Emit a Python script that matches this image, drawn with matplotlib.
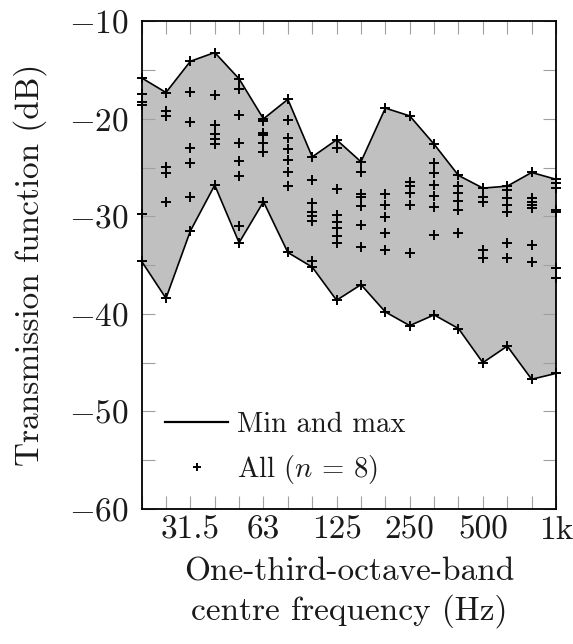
import matplotlib
matplotlib.use("Agg")
import matplotlib.pyplot as plt
from matplotlib.lines import Line2D
import numpy as np

plt.rcParams['font.family'] = 'serif'
plt.rcParams['font.serif'] = ['cmr10', 'DejaVu Serif']
plt.rcParams['mathtext.fontset'] = 'cm'
plt.rcParams['axes.unicode_minus'] = False

# One-third-octave bands (Hz)
bands = ["20", "25", "31.5", "40", "50", "63", "80", "100", "125",
         "160", "200", "250", "315", "400", "500", "630", "800", "1k"]
label_bands = ["31.5", "63", "125", "250", "500", "1k"]

# Transmission function values (dB) of all measurements per band
tf_20 = [-15.8, -17.5, -18.3, -18.6, -29.8, -34.6]
tf_25 = [-17.3, -19.2, -19.7, -24.9, -25.6, -28.5, -38.4]
tf_31 = [-14.1, -17.2, -20.3, -23.0, -24.5, -28.0, -31.5]
tf_40 = [-13.2, -17.6, -20.6, -21.6, -22.1, -22.6, -26.8]
tf_50 = [-15.9, -16.9, -19.6, -22.5, -24.3, -25.9, -31.0, -32.7]
tf_63 = [-20.0, -20.2, -21.5, -21.7, -22.5, -23.4, -28.5]
tf_80 = [-18.0, -20.1, -22.0, -23.1, -24.2, -25.5, -26.9, -33.7]
tf_100 = [-23.9, -26.3, -28.6, -29.5, -30.0, -30.5, -34.6, -35.2]
tf_125 = [-22.15, -23.0, -27.2, -29.9, -30.6, -31.2, -32.0, -32.7, -38.6]
tf_160 = [-24.4, -25.5, -27.7, -28.0, -28.9, -30.9, -33.1, -37.0]
tf_200 = [-18.9, -27.7, -28.8, -30.1, -31.7, -33.4, -39.8]
tf_250 = [-19.7, -26.5, -26.85, -27.6, -28.8, -33.8, -41.2]
tf_315 = [-22.6, -24.5, -25.6, -26.75, -27.9, -29.0, -31.9, -40.1]
tf_400 = [-25.8, -26.9, -27.6, -28.4, -29.3, -31.7, -41.5]
tf_500 = [-27.1, -28.0, -28.5, -33.4, -34.3, -45.0]
tf_630 = [-26.9, -27.3, -28.1, -28.8, -29.6, -32.7, -34.3, -43.3]
tf_800 = [-25.5, -28.1, -28.5, -28.8, -29.1, -32.9, -34.7, -46.7]
tf_1k = [-26.2, -26.6, -27.1, -29.3, -29.5, -35.3, -36.3, -46.1]

all_bands = [tf_20, tf_25, tf_31, tf_40, tf_50, tf_63, tf_80, tf_100, tf_125,
             tf_160, tf_200, tf_250, tf_315, tf_400, tf_500, tf_630, tf_800, tf_1k]

yticks_major = [-60, -50, -40, -30, -20, -10]

W, H = 573, 644
fig = plt.figure(figsize=(W / 100, H / 100), dpi=100)
ax = fig.add_axes([141.6 / W, 1 - 509 / H, (556 - 141.6) / W, (509 - 21.3) / H])

xpos = np.arange(len(bands))
vmax = np.array([max(v) for v in all_bands])
vmin = np.array([min(v) for v in all_bands])

ax.fill_between(xpos, vmin, vmax, facecolor='#c0c0c0', edgecolor='none', zorder=1)
ax.plot(xpos, vmax, color='black', lw=1.2, zorder=3)
ax.plot(xpos, vmin, color='black', lw=1.2, zorder=3)

px, py = [], []
for i, vals in enumerate(all_bands):
    for v in vals:
        px.append(xpos[i])
        py.append(v)
ax.plot(px, py, linestyle='none', marker='+', color='black', ms=7.5, mew=1.4,
        zorder=4, clip_on=False)

ax.set_xlim(0, len(bands) - 1)
ax.set_ylim(-60, -10)

ax.set_xticks(xpos)
ax.set_xticklabels([b if b in label_bands else '' for b in bands])
ax.set_yticks(np.arange(-60, -9, 5))
ax.set_yticklabels(['$%d$' % t if t in yticks_major else '' for t in np.arange(-60, -9, 5)])

ax.tick_params(axis='both', direction='in', length=9.5, width=0.8, color='#a0a0a0',
               top=True, right=True, labelsize=24, labelcolor='#1a1a1a')
ax.tick_params(axis='x', pad=5)
ax.tick_params(axis='y', pad=9)
for s in ax.spines.values():
    s.set_linewidth(1.3)
    s.set_zorder(5)

ax.set_ylabel('Transmission function (dB)', fontsize=24, labelpad=16, color='#1a1a1a')
ax.set_xlabel('One-third-octave-band\ncentre frequency (Hz)', fontsize=24,
              labelpad=9, linespacing=1.3, color='#1a1a1a')

handles = [Line2D([], [], color='black', lw=1.6),
           Line2D([], [], linestyle='none', marker='+', color='black', ms=6, mew=1.4)]
leg = ax.legend(handles, ['Min and max', 'All ($n$ = 8)'], loc='lower left',
                bbox_to_anchor=(0.0, 0.0), frameon=False, fontsize=20.6,
                handlelength=2.2, handletextpad=0.31, labelspacing=0.52,
                borderaxespad=0.42)
for t in leg.get_texts():
    t.set_color('#1a1a1a')

fig.savefig('out.png', dpi=100)
